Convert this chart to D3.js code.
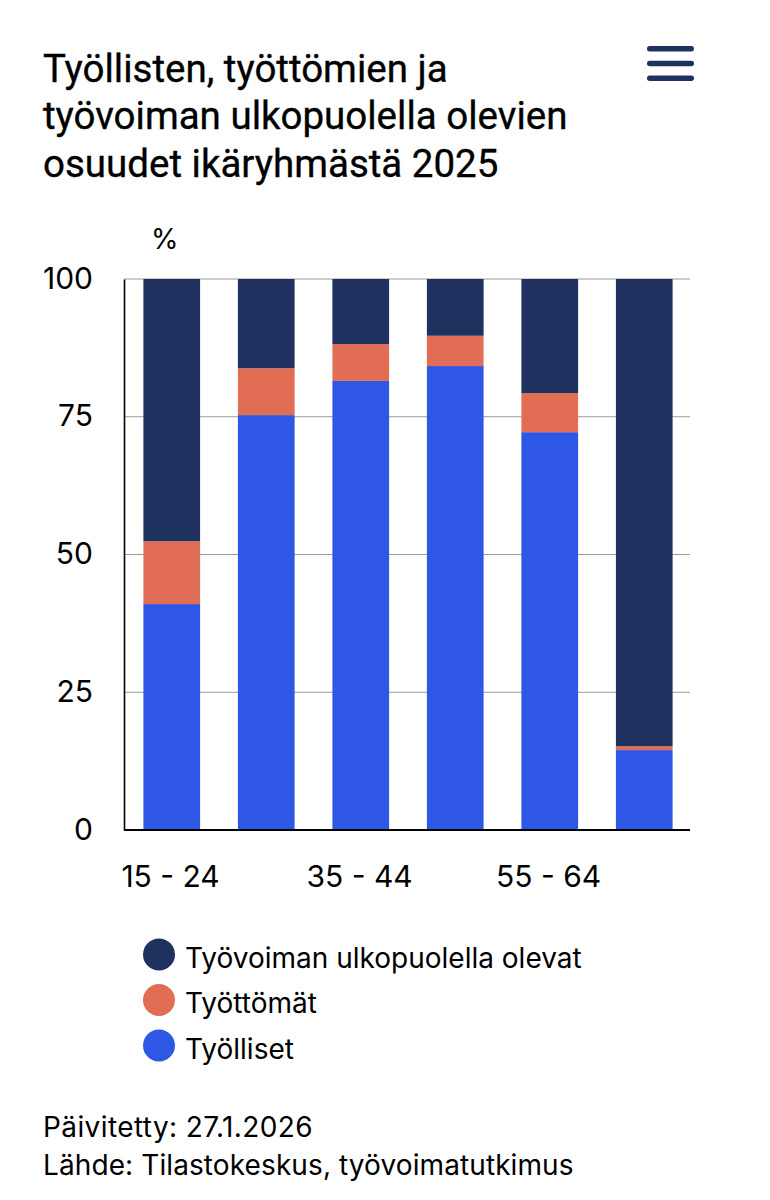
<!DOCTYPE html>
<html>
<head>
<meta charset="utf-8">
<script src="https://cdn.jsdelivr.net/npm/d3@7"></script>
<style>
	html, body { margin: 0; padding: 0; background: #fff; }
	svg { display: block; }
	text { fill: #000; font-family: Inter, sans-serif; }
	.title { font-family: Roboto, sans-serif; font-size: 38.5px; font-weight: 400; stroke: #000; stroke-width: 0.35px; }
	.tick text { font-size: 30px; }
	.legend text { font-size: 28px; }
	.foot { font-size: 28px; letter-spacing: 0.1px; }
	.foot.first { letter-spacing: 0.4px; }
</style>
</head>
<body>
<svg id="chart" width="770" height="1200"></svg>
<script>
'use strict';

var categories = ['15 - 24', '25 - 34', '35 - 44', '45 - 54', '55 - 64', '65 - 74'];
var employed = [41, 75.3, 81.5, 84.2, 72.2, 14.5];
var unemployed = [11.4, 8.5, 6.7, 5.5, 7.1, 0.7];
var outside = [47.6, 16.2, 11.8, 10.3, 20.7, 84.8];
var y_ticks = [0, 25, 50, 75, 100];

var title_lines = ['Työllisten, työttömien ja', 'työvoiman ulkopuolella olevien', 'osuudet ikäryhmästä 2025'];
var foot_lines = ['Päivitetty: 27.1.2026', 'Lähde: Tilastokeskus, työvoimatutkimus'];

var series_keys = ['employed', 'unemployed', 'outside'];
var series_names = { outside: 'Työvoiman ulkopuolella olevat', unemployed: 'Työttömät', employed: 'Työlliset' };
var colors = { outside: '#1f315f', unemployed: '#e26d55', employed: '#2d57e4' };

var svg = d3.select('#chart');

svg.selectAll('.title')
	.data(title_lines)
	.enter().append('text')
	.attr('class', 'title')
	.attr('x', 43)
	.attr('y', function(d, i) { return 81.5 + i * 47.5; })
	.text(function(d) { return d; });

// menu icon
svg.selectAll('.menu')
	.data([0, 1, 2])
	.enter().append('rect')
	.attr('class', 'menu')
	.attr('x', 647)
	.attr('y', function(d) { return 46 + d * 14.7; })
	.attr('width', 47)
	.attr('height', 5.5)
	.attr('rx', 2.7)
	.attr('fill', colors.outside);

var x = d3.scaleBand().domain(categories).range([124.5, 691.5]).paddingInner(0.4).paddingOuter(0.2);
var y = d3.scaleLinear().domain([0, 100]).range([830, 279]);

svg.append('text')
	.attr('x', 151)
	.attr('y', 249)
	.style('font-size', '28px')
	.text('%');

// grid lines sit behind the bars
svg.append('g')
	.selectAll('line')
	.data(y_ticks.slice(1))
	.enter().append('line')
	.attr('x1', 124)
	.attr('x2', 690)
	.attr('y1', function(d) { return y(d); })
	.attr('y2', function(d) { return y(d); })
	.attr('stroke', '#9a9a9a')
	.attr('stroke-width', 1.2);

var rows = categories.map(function(c, i) {
	return { cat: c, employed: employed[i], unemployed: unemployed[i], outside: outside[i] };
});
var stacked = d3.stack().keys(series_keys)(rows);

svg.append('g')
	.selectAll('g')
	.data(stacked)
	.enter().append('g')
	.attr('fill', function(d) { return colors[d.key]; })
	.selectAll('rect')
	.data(function(d) { return d; })
	.enter().append('rect')
	.attr('x', function(d) { return x(d.data.cat); })
	.attr('y', function(d) { return y(d[1]); })
	.attr('width', x.bandwidth())
	.attr('height', function(d) { return y(d[0]) - y(d[1]); });

var y_axis = d3.axisLeft(y).tickValues(y_ticks).tickSize(0).tickPadding(31);
var y_g = svg.append('g').attr('transform', 'translate(124,0)').call(y_axis);
y_g.select('.domain').attr('stroke', '#000').attr('stroke-width', 1.6);
y_g.selectAll('.tick text').attr('dy', '0.3em');

// only every second age group gets a label
var x_axis = d3.axisBottom(x).tickSize(0).tickPadding(36)
	.tickFormat(function(d, i) { return i % 2 === 0 ? d : ''; });
var x_g = svg.append('g').attr('transform', 'translate(0,830)').call(x_axis);
x_g.select('.domain').attr('d', 'M124,0H690').attr('stroke', '#000').attr('stroke-width', 2);
x_g.selectAll('.tick text').attr('dx', -1.2);

var legend_order = ['outside', 'unemployed', 'employed'];
var legend = svg.append('g').attr('class', 'legend')
	.selectAll('g')
	.data(legend_order)
	.enter().append('g')
	.attr('transform', function(d, i) { return 'translate(0,' + (954.5 + i * 45.5) + ')'; });
legend.append('ellipse')
	.attr('cx', 159)
	.attr('rx', 16)
	.attr('ry', 16)
	.attr('fill', function(d) { return colors[d]; });
legend.append('text')
	.attr('x', 185)
	.attr('y', 13)
	.text(function(d) { return series_names[d]; });

svg.selectAll('.foot')
	.data(foot_lines)
	.enter().append('text')
	.attr('class', function(d, i) { return i === 0 ? 'foot first' : 'foot'; })
	.attr('x', 43)
	.attr('y', function(d, i) { return 1137 + i * 38; })
	.text(function(d) { return d; });
</script>
</body>
</html>
